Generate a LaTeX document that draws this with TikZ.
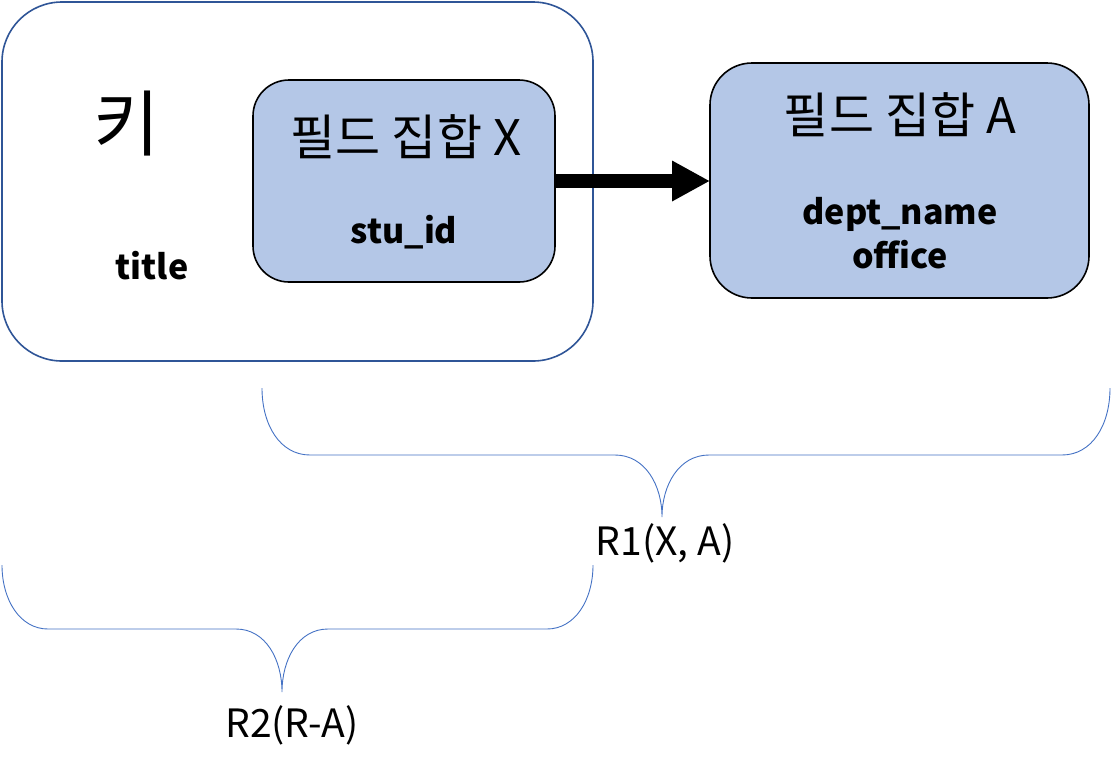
\documentclass[tikz,border=0pt]{standalone}
\usepackage{fontspec}
\setmainfont{Noto Sans CJK KR}
\usetikzlibrary{arrows.meta}
\definecolor{fillblue}{HTML}{B4C7E7}
\definecolor{darkblue}{HTML}{2F5597}
\definecolor{bracecol}{HTML}{4472C4}
\begin{document}
\begin{tikzpicture}[x=1pt,y=-1pt,
  keybox/.style={draw=darkblue,line width=1.6pt,rounded corners=60pt},
  fieldbox/.style={draw=black,fill=fillblue,line width=1.6pt},
  big/.style={font=\fontsize{49}{54}\selectfont},
  lbl/.style={font=\fontsize{39}{44}\selectfont},
  bold/.style={font=\fontsize{34}{44}\selectfont\bfseries,align=center},
  bracestyle/.style={draw=bracecol,line width=0.9pt}]
\useasboundingbox (0,0) rectangle (1111,772);
% outer key box
\draw[keybox] (2,2) rectangle (593,361);
\node[font=\fontsize{72}{78}\selectfont] (key) at (127,124) {키};
\node[bold] (title) at (152,266) {title};
% field set X
\draw[fieldbox,rounded corners=36pt] (253,80) rectangle (555,282);
\coordinate (xr) at (555,181);
\node[big] (fx) at (406,137) {필드 집합 X};
\node[bold] (stu) at (404,232) {stu\_id};
% field set A
\draw[fieldbox,rounded corners=42pt] (710,63) rectangle (1089,298);
\coordinate (al) at (710,181);
\node[big] (fa) at (900,115) {필드 집합 A};
\node[bold] (attrs) at (900,233) {dept\_name\\office};
% arrow
\draw[line width=14pt,-{Triangle[length=38pt,width=38pt]}] (xr) -- (al);
% brace 1
\coordinate (b1l) at (262,388);
\coordinate (b1r) at (1110,388);
\coordinate (b1t) at (662,517);
\draw[bracestyle] (b1l) .. controls (262,425) and (280,455) .. (310,455)
  -- (615,455) .. controls (645,455) and (662,485) .. (b1t)
  .. controls (662,485) and (679,455) .. (709,455)
  -- (1062,455) .. controls (1092,455) and (1110,425) .. (b1r);
\node[lbl] (r1) at (665,543) {R1(X, A)};
% brace 2
\coordinate (b2l) at (2,565);
\coordinate (b2r) at (593,565);
\coordinate (b2t) at (282,692);
\draw[bracestyle] (b2l) .. controls (2,600) and (20,629) .. (48,629)
  -- (236,629) .. controls (266,629) and (282,660) .. (b2t)
  .. controls (282,660) and (298,629) .. (328,629)
  -- (547,629) .. controls (575,629) and (593,600) .. (b2r);
\node[lbl] (r2) at (292,725) {R2(R-A)};
\end{tikzpicture}
\end{document}
